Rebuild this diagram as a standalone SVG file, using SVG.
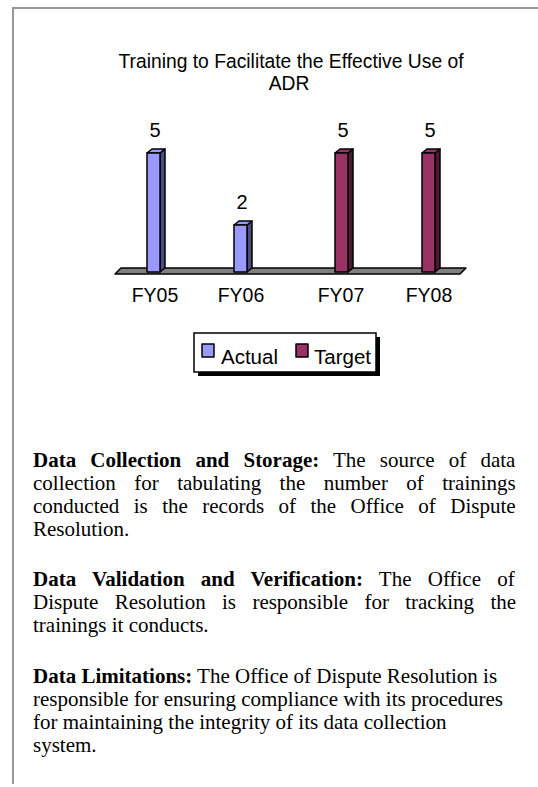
<svg xmlns="http://www.w3.org/2000/svg" width="538" height="787" viewBox="0 0 538 787">
<style>
.ar{font-family:"Liberation Sans",Arial,sans-serif;fill:#000}
.tm{font-family:"Liberation Serif","Times New Roman",serif;font-size:21px;fill:#000}
.b{font-weight:bold}
.edge{stroke:#000;stroke-width:1.5;stroke-linejoin:round}
.act{fill:#9999FF}.actS{fill:#4D4D80}
.tgt{fill:#993366}.tgtS{fill:#4D1933}
</style>
<rect width="538" height="787" fill="#fff"/>
<g id="frame" fill="none" stroke="#999" stroke-width="2">
<path d="M13,784 V8 H538"/>
</g>
<g id="title" class="ar" font-size="19.3" text-anchor="middle">
<text x="291" y="68">Training to Facilitate the Effective Use of</text>
<text x="289" y="90">ADR</text>
</g>
<g id="floor">
<polygon class="edge" points="115,274 121,268 466,268 460,274" fill="#808080"/>
</g>
<g id="bar-FY05">
<polygon class="edge actS" points="160,153 165,149 165,268 160,272"/>
<polygon class="edge act" points="147,153 152,149 165,149 160,153"/>
<rect class="edge act" x="147" y="153" width="13" height="119"/>
<text class="ar" font-size="20" x="155" y="137" text-anchor="middle">5</text>
</g>
<g id="bar-FY06">
<polygon class="edge actS" points="247,225 252,221 252,268 247,272"/>
<polygon class="edge act" points="234,225 239,221 252,221 247,225"/>
<rect class="edge act" x="234" y="225" width="13" height="47"/>
<text class="ar" font-size="20" x="242" y="209" text-anchor="middle">2</text>
</g>
<g id="bar-FY07">
<polygon class="edge tgtS" points="348,153 353,149 353,268 348,272"/>
<polygon class="edge tgt" points="335,153 340,149 353,149 348,153"/>
<rect class="edge tgt" x="335" y="153" width="13" height="119"/>
<text class="ar" font-size="20" x="343" y="137" text-anchor="middle">5</text>
</g>
<g id="bar-FY08">
<polygon class="edge tgtS" points="435,153 440,149 440,268 435,272"/>
<polygon class="edge tgt" points="422,153 427,149 440,149 435,153"/>
<rect class="edge tgt" x="422" y="153" width="13" height="119"/>
<text class="ar" font-size="20" x="430" y="137" text-anchor="middle">5</text>
</g>
<g id="axis-labels" class="ar" font-size="19.5" text-anchor="middle">
<text x="155" y="302">FY05</text>
<text x="241" y="302">FY06</text>
<text x="341" y="302">FY07</text>
<text x="429" y="302">FY08</text>
</g>
<g id="legend">
<rect x="198" y="337" width="182" height="39" fill="#000"/>
<rect x="194" y="333" width="182" height="39" fill="#fff" stroke="#000" stroke-width="1.5"/>
<rect class="edge act" x="202" y="344" width="12" height="13"/>
<text class="ar" font-size="20.5" x="221" y="364">Actual</text>
<rect class="edge tgt" x="296" y="344" width="12" height="13"/>
<text class="ar" font-size="20.5" x="314" y="364">Target</text>
</g>
<g id="para-collection" class="tm">
<text x="33" y="467" word-spacing="8.9"><tspan class="b">Data Collection and Storage:</tspan> The source of data</text>
<text x="33" y="490" word-spacing="13.2">collection for tabulating the number of trainings</text>
<text x="33" y="513" word-spacing="9.2">conducted is the records of the Office of Dispute</text>
<text x="33" y="536">Resolution.</text>
</g>
<g id="para-validation" class="tm">
<text x="33" y="586" word-spacing="11.0"><tspan class="b">Data Validation and Verification:</tspan> The Office of</text>
<text x="33" y="609" word-spacing="11.1">Dispute Resolution is responsible for tracking the</text>
<text x="33" y="632">trainings it conducts.</text>
</g>
<g id="para-limitations" class="tm">
<text x="33" y="683"><tspan class="b">Data Limitations:</tspan> The Office of Dispute Resolution is</text>
<text x="33" y="706">responsible for ensuring compliance with its procedures</text>
<text x="33" y="729">for maintaining the integrity of its data collection</text>
<text x="33" y="752">system.</text>
</g>
</svg>
